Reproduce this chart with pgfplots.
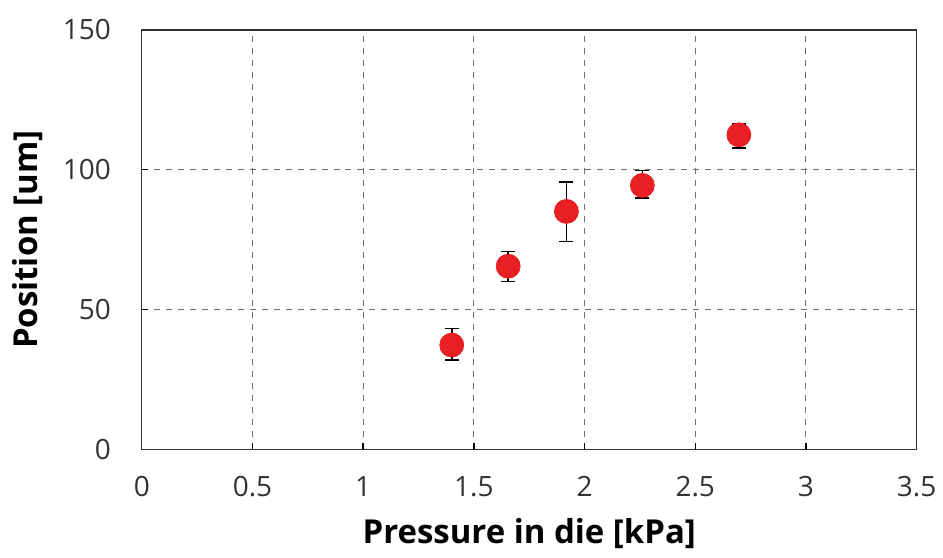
\documentclass[border=0pt]{standalone}
\usepackage{fontspec}
\setmainfont{Open Sans}
\usepackage{pgfplots}
\pgfplotsset{compat=1.18}
\definecolor{ptred}{RGB}{232,32,36}
\definecolor{gridgray}{RGB}{110,110,110}
\begin{document}
\begin{tikzpicture}
\begin{axis}[
  width=388pt, height=210pt, scale only axis,
  xmin=0, xmax=3.5, ymin=0, ymax=150,
  xtick={0,0.5,...,3.5}, ytick={0,50,100,150},
  xticklabels={0,0.5,1,1.5,2,2.5,3,3.5},
  grid=major,
  major grid style={dashed, gridgray, line width=0.5pt},
  axis line style={black!80, line width=0.7pt},
  tick style={black, line width=0.7pt},
  major tick length=3pt,
  tick align=inside,
  xtick pos=bottom, ytick pos=left,
  /pgf/number format/assume math mode=true,
  tick label style={font=\fontsize{14}{16}\selectfont\color{black!80}},
  xticklabel style={yshift=-10pt},
  yticklabel style={xshift=-12pt},
  xlabel={\textbf{Pressure in die [kPa]}},
  ylabel={\textbf{Position [um]}},
  label style={font=\fontsize{16.5}{18}\selectfont},
  xlabel style={yshift=-4pt},
  ylabel style={yshift=3pt},
]
\addplot[only marks, mark=*, mark size=6pt, mark options={fill=ptred, draw=ptred},
  error bars/.cd, y dir=both, y explicit,
  error bar style={black, line width=0.8pt},
  error mark options={rotate=90, mark size=3.5pt, line width=0.8pt, black}]
  table[x=x, y=y, y error plus=ep, y error minus=em] {
  x     y     ep    em
  1.40  37.3  5.9   5.3
  1.655 65.5  5.3   5.4
  1.918 85.1  10.5  10.7
  2.261 94.4  5.3   4.5
  2.697 112.5 3.9   4.7
};
\end{axis}
\path (current axis.south west) ++(-71pt,-54pt) coordinate (bbA);
\path (current axis.north east) ++(12.5pt,15pt) coordinate (bbB);
\path (bbA) rectangle (bbB);
\end{tikzpicture}
\end{document}
